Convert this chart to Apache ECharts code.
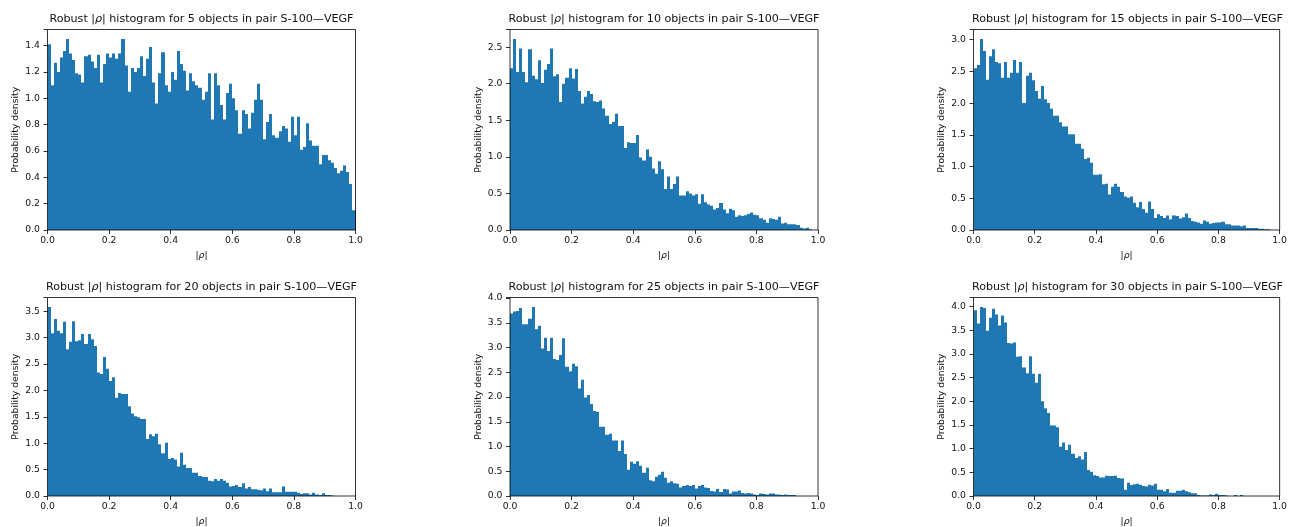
<!DOCTYPE html>
<html>
<head>
<meta charset="utf-8">
<script src="https://cdn.jsdelivr.net/npm/echarts@6/dist/echarts.min.js"></script>
<style>
  html, body { margin: 0; padding: 0; background: #fff; }
  #main { width: 1290px; height: 527px; }
</style>
</head>
<body>
<div id="main"></div>
<script>
// 100 bins of width 0.01 on [0, 1], densities
let binWidth = 0.01
let objectCounts = [5, 10, 15, 20, 25, 30]
let xTicks = ['0.0', '0.2', '0.4', '0.6', '0.8', '1.0']

let rho5 = [1.41,1.10,1.27,1.20,1.31,1.36,1.45,1.34,1.29,1.19,
    1.18,1.12,1.32,1.33,1.28,1.23,1.33,1.12,1.26,1.34,
    1.31,1.34,1.30,1.34,1.45,1.25,1.05,1.23,1.20,1.23,
    1.32,1.17,1.30,1.39,1.12,0.96,1.19,1.35,1.10,1.05,
    1.20,1.14,1.36,1.26,1.21,1.06,1.19,1.13,1.10,1.08,
    0.99,1.05,1.19,0.84,1.19,1.10,0.95,0.84,1.04,1.11,
    1.00,0.91,0.73,0.91,0.88,0.77,0.89,0.99,1.11,0.99,
    0.69,0.82,0.88,0.72,0.70,0.75,0.79,0.77,0.67,0.86,
    0.72,0.86,0.61,0.63,0.81,0.68,0.64,0.64,0.50,0.57,
    0.57,0.53,0.51,0.47,0.43,0.45,0.49,0.44,0.35,0.15]

let rho10 = [2.21,2.61,2.16,2.48,2.16,2.02,2.47,2.11,2.06,2.32,
    2.01,2.19,2.27,2.48,2.10,2.13,1.75,2.00,2.08,2.21,
    2.07,2.20,1.90,1.73,1.82,1.90,1.86,1.76,1.75,1.77,
    1.66,1.56,1.45,1.48,1.59,1.42,1.42,1.12,1.20,1.19,
    1.19,1.30,0.99,0.95,1.10,1.00,0.84,0.77,0.94,0.83,
    0.56,0.73,0.56,0.63,0.73,0.47,0.47,0.53,0.50,0.47,
    0.49,0.36,0.49,0.38,0.35,0.33,0.28,0.30,0.37,0.28,
    0.23,0.29,0.27,0.18,0.20,0.19,0.20,0.22,0.24,0.21,
    0.20,0.16,0.14,0.10,0.16,0.15,0.14,0.18,0.09,0.10,
    0.08,0.08,0.08,0.07,0.03,0.02,0.03,0.01,0.00,0.00]

let rho15 = [2.55,2.60,3.01,2.82,2.37,2.74,2.85,2.65,2.63,2.40,
    2.65,2.40,2.48,2.68,2.48,2.65,2.00,2.43,2.48,2.36,
    2.19,2.07,2.27,2.06,2.00,1.91,1.80,1.80,1.70,1.63,
    1.63,1.51,1.51,1.36,1.36,1.28,1.12,1.14,1.06,0.87,
    0.87,0.88,0.72,0.73,0.56,0.68,0.73,0.68,0.60,0.53,
    0.51,0.53,0.43,0.36,0.44,0.33,0.27,0.45,0.33,0.19,
    0.25,0.22,0.19,0.23,0.17,0.23,0.22,0.18,0.20,0.26,
    0.19,0.14,0.13,0.12,0.10,0.15,0.13,0.10,0.11,0.12,
    0.12,0.13,0.09,0.09,0.07,0.07,0.07,0.06,0.07,0.03,
    0.03,0.03,0.03,0.02,0.02,0.01,0.01,0.00,0.00,0.00]

let rho20 = [3.58,3.08,3.35,3.13,3.08,3.30,2.78,2.92,3.31,2.93,
    2.95,3.07,2.88,3.07,2.97,2.84,2.34,2.31,2.63,2.41,
    2.18,2.25,1.86,1.95,1.93,1.93,1.70,1.56,1.51,1.49,
    1.46,1.46,1.08,1.17,1.13,1.18,0.98,0.81,1.01,0.70,
    0.72,0.69,0.56,0.82,0.59,0.53,0.53,0.44,0.44,0.38,
    0.36,0.36,0.29,0.28,0.32,0.29,0.32,0.29,0.25,0.18,
    0.19,0.21,0.17,0.24,0.14,0.17,0.13,0.13,0.12,0.11,
    0.14,0.09,0.14,0.07,0.07,0.07,0.18,0.08,0.08,0.08,
    0.08,0.06,0.04,0.05,0.05,0.03,0.06,0.03,0.02,0.05,
    0.02,0.02,0.01,0.00,0.00,0.00,0.00,0.00,0.00,0.00]

let rho25 = [3.69,3.73,3.74,3.80,3.47,3.47,3.58,3.82,3.37,3.44,
    2.98,3.20,2.93,3.20,2.77,2.75,2.85,3.19,2.61,2.52,
    2.67,2.62,2.17,2.35,1.99,2.04,1.86,1.72,1.70,1.40,
    1.40,1.24,1.26,1.12,1.12,0.91,1.12,0.85,0.53,0.69,
    0.65,0.70,0.61,0.47,0.57,0.32,0.30,0.39,0.43,0.49,
    0.37,0.27,0.30,0.26,0.25,0.17,0.20,0.22,0.20,0.22,
    0.15,0.20,0.22,0.17,0.16,0.10,0.09,0.14,0.08,0.14,
    0.13,0.05,0.09,0.09,0.11,0.06,0.05,0.06,0.05,0.03,
    0.02,0.05,0.04,0.03,0.05,0.05,0.03,0.03,0.02,0.03,
    0.02,0.02,0.02,0.00,0.00,0.00,0.00,0.00,0.00,0.00]

let rho30 = [3.92,3.64,3.99,3.97,3.49,3.76,3.95,3.83,3.60,3.81,
    3.66,3.23,3.22,3.24,2.94,2.95,2.71,2.59,2.95,2.58,
    2.39,2.58,2.00,1.85,1.75,1.49,1.49,1.45,1.04,1.13,
    0.97,1.08,0.89,0.80,0.84,0.77,0.93,0.55,0.51,0.44,
    0.42,0.39,0.39,0.43,0.42,0.42,0.43,0.38,0.37,0.13,
    0.28,0.23,0.25,0.26,0.24,0.21,0.20,0.24,0.22,0.26,
    0.13,0.13,0.10,0.15,0.07,0.07,0.11,0.11,0.13,0.10,
    0.08,0.06,0.06,0.02,0.01,0.01,0.01,0.03,0.02,0.05,
    0.02,0.02,0.01,0.00,0.00,0.02,0.00,0.02,0.00,0.00,
    0.00,0.00,0.00,0.00,0.00,0.00,0.00,0.00,0.00,0.00]

let panels = [rho5, rho10, rho15, rho20, rho25, rho30]
let yIntervals = [0.2, 0.5, 0.5, 0.5, 0.5, 0.5]

let colLeft = [47.5, 510, 973.5], rowTop = [29.5, 297.5]
let plotW = 308, plotH = 200.5
let font = 'DejaVu Sans'
let ink = '#111'

function tickFmt(iv) {
    return function (v) {
        let k = v / iv
        return Math.abs(k - Math.round(k)) < 1e-6 ? v.toFixed(1) : ''
    }
}

// snap bin edges to whole pixels so neighbouring bars join without seams
function renderBin(params, api) {
    let p0 = api.coord([api.value(0), api.value(2)])
    let p1 = api.coord([api.value(1), 0])
    let x0 = Math.round(p0[0]), x1 = Math.round(p1[0])
    return {
        type: 'rect',
        shape: {x: x0, y: p0[1], width: x1 - x0, height: p1[1] - p0[1]},
        style: {fill: '#1f77b4'}
    }
}

let option = {grid: [], xAxis: [], yAxis: [], title: [], series: [], animation: false}

panels.forEach(function (vals, k) {
    let left = colLeft[k % 3], top = rowTop[Math.floor(k / 3)]
    option.grid.push({
        left: left, top: top, width: plotW, height: plotH,
        show: true, borderColor: '#000', borderWidth: 0.8, z: 5
    })
    option.title.push({
        text: 'Robust |{i|ρ}| histogram for ' + objectCounts[k] + ' objects in pair S-100—VEGF',
        left: left + plotW / 2, top: top - 16, textAlign: 'center', padding: 0,
        textStyle: {
            fontFamily: font, fontSize: 11.1, fontWeight: 'normal', color: ink,
            rich: {i: {fontFamily: font, fontSize: 11.1, fontStyle: 'italic', color: ink}}
        }
    })
    option.xAxis.push({
        type: 'value', gridIndex: k, min: 0, max: 1, interval: 0.2,
        splitLine: {show: false}, axisLine: {show: false},
        axisTick: {show: true, length: 4, lineStyle: {color: '#000', width: 0.8}},
        axisLabel: {
            margin: 6, fontFamily: font, fontSize: 9.25, color: ink,
            formatter: function (v) { return xTicks[Math.round(v / 0.2)] }
        },
        name: '|{i|ρ}|', nameLocation: 'middle', nameGap: 21,
        nameTextStyle: {
            fontFamily: font, fontSize: 9.25, color: ink,
            rich: {i: {fontFamily: font, fontSize: 9.25, fontStyle: 'italic', color: ink}}
        }
    })
    option.yAxis.push({
        type: 'value', gridIndex: k, min: 0, interval: yIntervals[k],
        max: function (v) { return v.max * 1.05 },
        splitLine: {show: false}, axisLine: {show: false},
        axisTick: {show: true, length: 4, lineStyle: {color: '#000', width: 0.8}},
        axisLabel: {margin: 7.5, fontFamily: font, fontSize: 9.25, color: ink, formatter: tickFmt(yIntervals[k])},
        name: 'Probability density', nameLocation: 'middle', nameGap: 27, nameRotate: 90,
        nameTextStyle: {fontFamily: font, fontSize: 9.25, color: ink}
    })
    option.series.push({
        type: 'custom', xAxisIndex: k, yAxisIndex: k, clip: true, z: 2,
        renderItem: renderBin,
        encode: {x: [0, 1], y: 2},
        data: vals.map(function (h, i) { return [i * binWidth, (i + 1) * binWidth, h] })
    })
})

let chart = echarts.init(document.getElementById('main'))
chart.setOption(option)
</script>
</body>
</html>
